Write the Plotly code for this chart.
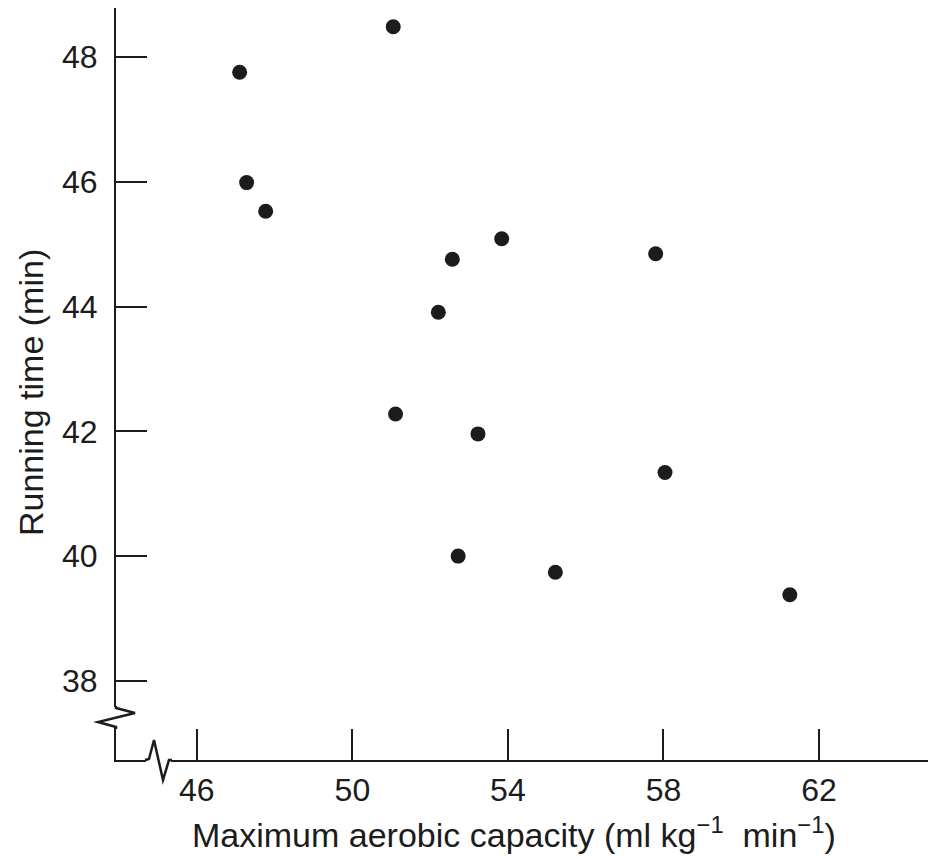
import plotly.graph_objects as go

# Data
aerobic_capacity = [47.1, 51.05, 47.28, 47.77, 53.84, 52.57, 57.8, 52.21, 51.11, 53.23, 58.04, 52.72, 55.22, 61.25]
running_time = [47.76, 48.49, 45.99, 45.53, 45.09, 44.76, 44.85, 43.91, 42.28, 41.96, 41.34, 40.0, 39.74, 39.38]

x_ticks = [46, 50, 54, 58, 62]
y_ticks = [38, 40, 42, 44, 46, 48]

x_title = "Maximum aerobic capacity (ml kg<sup>−1</sup>  min<sup>−1</sup>)"
y_title = "Running time (min)"

# page body adds an 8px offset; compensate so the plot lands where the reference has it
OFF = 8
W, H = 936 - OFF, 859 - OFF
L, R, T, B = 116 - OFF, 0, 8 - OFF, 99
PW, PH = W - L - R, H - T - B
INK = "#1c1c1c"
FONT = "Liberation Sans, Arial, Helvetica, sans-serif"


def px(xp):
    # xp given in screen pixels of the reference
    return (xp - OFF - L) / PW


def py(yp):
    return (H - B - (yp - OFF)) / PH


fig = go.Figure()
fig.add_trace(go.Scatter(
    x=aerobic_capacity, y=running_time, mode="markers",
    marker=dict(size=15, color=INK, line=dict(width=0)),
    showlegend=False, cliponaxis=False,
))


def path(points):
    return "M " + " L ".join(f"{px(a):.5f},{py(b):.5f}" for a, b in points)


shapes = [
    dict(type="line", xref="paper", yref="paper", x0=px(116), x1=px(116), y0=py(707), y1=py(728),
         line=dict(color="white", width=5), layer="above"),
    dict(type="line", xref="paper", yref="paper", x0=px(146), x1=px(171), y0=py(760), y1=py(760),
         line=dict(color="white", width=5), layer="above"),
    dict(type="path", xref="paper", yref="paper",
         path=path([(116, 706), (116, 708), (135, 713), (98, 722), (116, 727), (116, 729)]),
         line=dict(color=INK, width=2.5), layer="above"),
    dict(type="path", xref="paper", yref="paper",
         path=path([(145, 760), (149, 759), (154, 740), (163, 780), (169, 760), (172, 760)]),
         line=dict(color=INK, width=2.5), layer="above"),
]

annotations = [
    dict(text=x_title, xref="paper", yref="paper", x=px(514), y=py(832),
         xanchor="center", yanchor="middle", showarrow=False, font=dict(size=34, color=INK)),
    dict(text=y_title, xref="paper", yref="paper", x=px(31), y=py(393), textangle=-90,
         xanchor="center", yanchor="middle", showarrow=False, font=dict(size=34, color=INK)),
]

fig.update_layout(
    width=W, height=H,
    margin=dict(l=L, r=R, t=T, b=B, pad=0),
    paper_bgcolor="white", plot_bgcolor="white",
    font=dict(family=FONT, color=INK, size=32),
    shapes=shapes,
    annotations=annotations,
    xaxis=dict(
        range=[43.92, 65.01], tickvals=x_ticks, ticktext=[str(v) for v in x_ticks],
        showgrid=False, zeroline=False, showline=True, linecolor=INK, linewidth=2,
        ticks="inside", ticklen=31, tickwidth=1.5, tickcolor=INK,
        tickfont=dict(size=32), ticklabelstandoff=1,
        automargin=False,
    ),
    yaxis=dict(
        range=[36.73, 48.79], tickvals=y_ticks, ticktext=[str(v) for v in y_ticks],
        showgrid=False, zeroline=False, showline=True, linecolor=INK, linewidth=2,
        ticks="inside", ticklen=31, tickwidth=1.5, tickcolor=INK,
        tickfont=dict(size=32), ticklabelstandoff=10,
        automargin=False,
    ),
)

fig.write_html("out.html")
